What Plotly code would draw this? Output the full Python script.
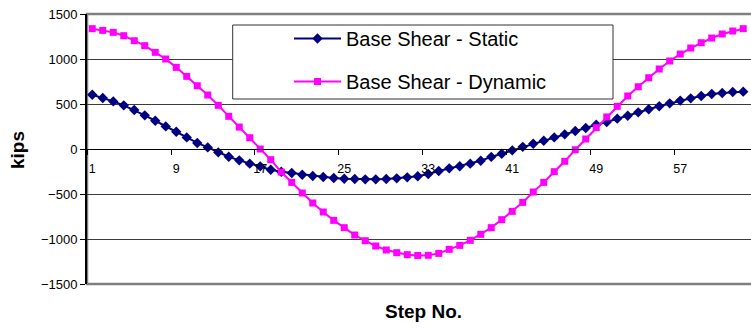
import plotly.graph_objects as go

steps = [str(i) for i in range(1, 64)]
static = [603, 567, 529, 485, 433, 374, 314, 251, 192, 129, 67, 18, -37, -86, -126, -163,
          -193, -230, -252, -267, -286, -300, -311, -323, -330, -333, -337, -337, -333, -326, -315, -302,
          -278, -245, -215, -192, -163, -130, -88, -52, -15, 24, 59, 92, 129, 163, 200,
          233, 270, 300, 337, 370, 407, 441, 475, 507, 538, 563, 589, 611, 622, 633, 637]
dynamic = [1337, 1318, 1296, 1259, 1203, 1148, 1074, 1000, 907, 807, 703, 600, 485, 363, 244, 125,
           0, -119, -256, -371, -489, -600, -700, -793, -874, -956, -1019, -1078, -1122, -1152, -1174, -1183,
           -1181, -1160, -1115, -1071, -1015, -948, -874, -785, -693, -593, -478, -371, -252, -137, -8,
           111, 237, 356, 474, 589, 692, 792, 889, 978, 1055, 1122, 1181, 1233, 1278, 1311, 1337]
y_ticks = [-1500, -1000, -500, 0, 500, 1000, 1500]

FONT = "Liberation Sans, Arial, sans-serif"

fig = go.Figure()
fig.add_trace(go.Scatter(
    x=steps, y=static, mode="lines+markers", name="Base Shear - Static",
    legendgroup="a",
    line=dict(color="#000080", width=2),
    marker=dict(symbol="diamond", size=8, color="#000080"),
))
fig.add_trace(go.Scatter(
    x=steps, y=dynamic, mode="lines+markers", name="Base Shear - Dynamic",
    legendgroup="b",
    line=dict(color="#FF00FF", width=2),
    marker=dict(symbol="square", size=7, color="#FF00FF"),
))

fig.update_layout(
    width=751, height=329,
    margin=dict(l=87, r=0, t=14, b=45),
    paper_bgcolor="white", plot_bgcolor="white",
    font=dict(family=FONT, color="black"),
    showlegend=True,
    legend=dict(
        x=(289 - 87) / 664, xanchor="left",
        y=(284 - 19) / 270, yanchor="top",
        bgcolor="rgba(0,0,0,0)", borderwidth=0,
        font=dict(family=FONT, size=20, color="black"),
        traceorder="grouped", tracegroupgap=14,
        itemwidth=47,
    ),
    xaxis=dict(
        type="category", categoryorder="array", categoryarray=steps,
        range=[-0.5, 62.74],
        anchor="free", position=0.5,
        showline=True, linecolor="black", linewidth=1,
        ticks="outside", ticklen=5, tickcolor="black", tickwidth=1,
        tickson="boundaries", dtick=8, tick0=0, tickangle=0,
        showgrid=False, zeroline=False,
        tickfont=dict(family=FONT, size=12.5, color="black"),
        ticklabelstandoff=8,
    ),
    yaxis=dict(
        range=[-1500, 1500], tickvals=y_ticks,
        showline=True, linecolor="black", linewidth=2,
        ticks="outside", ticklen=5, tickcolor="black", tickwidth=1,
        showgrid=True, gridcolor="#3c3c3c", gridwidth=1,
        zeroline=False,
        tickfont=dict(family=FONT, size=13, color="black"),
    ),
    shapes=[
        dict(type="rect", xref="paper", yref="paper", x0=0, x1=1.02, y0=0, y1=1,
             line=dict(color="#7f7f7f", width=2.5), fillcolor="rgba(0,0,0,0)", layer="below"),
        dict(type="rect", xref="paper", yref="paper",
             x0=(232.7 - 87) / 664, x1=(613 - 87) / 664,
             y0=(284 - 99) / 270, y1=(284 - 25) / 270,
             line=dict(color="#333333", width=1), fillcolor="white", layer="above"),
    ],
    annotations=[
        dict(text="<b>Step No.</b>", xref="paper", yref="paper",
             x=(423 - 87) / 664, y=(284 - 311.7) / 270, xanchor="center", yanchor="middle",
             showarrow=False, font=dict(family=FONT, size=19, color="black")),
        dict(text="<b>kips</b>", xref="paper", yref="paper", textangle=-90,
             x=(17 - 87) / 664, y=(284 - 150) / 270, xanchor="center", yanchor="middle",
             showarrow=False, font=dict(family=FONT, size=19, color="black")),
    ],
)

fig.write_html("out.html")
